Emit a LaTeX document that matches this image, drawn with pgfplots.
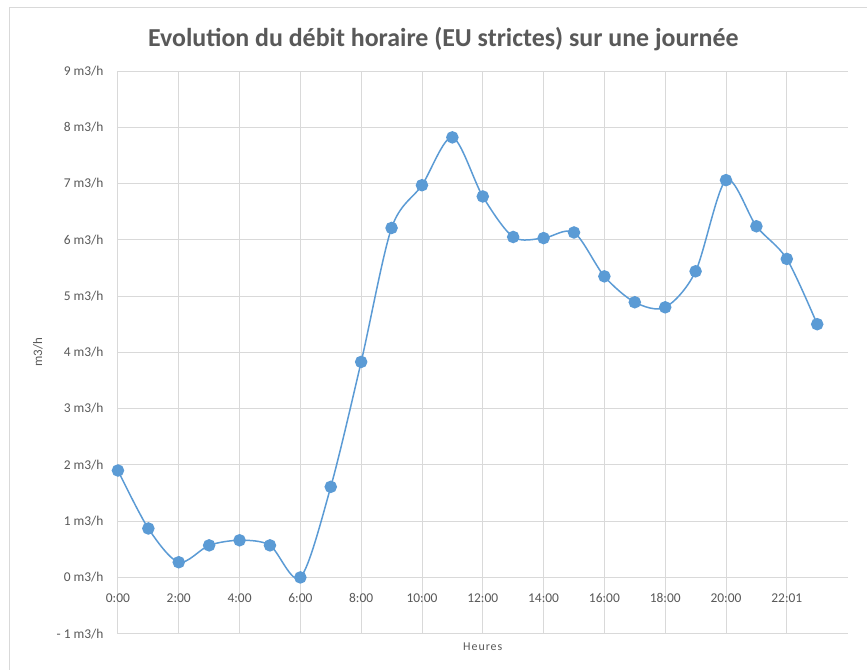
\documentclass[border=0pt]{standalone}
\usepackage{pgfplots}
\pgfplotsset{compat=1.18}
\usepackage{fontspec}
\setmainfont{Carlito}
\definecolor{txt}{HTML}{595959}
\definecolor{grd}{HTML}{D9D9D9}
\definecolor{ser}{HTML}{5B9BD5}
\begin{document}
\begin{tikzpicture}
\fill[white] (-118bp,-36bp) rectangle (749bp,634bp);
\draw[grd, line width=0.8bp] (-109bp,-36bp) -- (-109bp,627bp) -- (749bp,627bp);
\begin{axis}[at={(0,0)}, anchor=south west, scale only axis,
  width=730bp, height=563bp,
  xmin=0, xmax=24, ymin=-1, ymax=9,
  xtick={0,2,...,22},
  xticklabels={0:00,2:00,4:00,6:00,8:00,10:00,12:00,14:00,16:00,18:00,20:00,22:01},
  ytick={-1,0,...,9},
  yticklabels={- 1 m3/h,0 m3/h,1 m3/h,2 m3/h,3 m3/h,4 m3/h,5 m3/h,6 m3/h,7 m3/h,8 m3/h,9 m3/h},
  grid=major, grid style={grd, line width=0.9bp},
  axis line style={draw=none}, major tick length=0pt,
  tick label style={font=\fontsize{13.5}{15}\selectfont, text=txt},
  xticklabel style={text height=9bp, text depth=0bp, yshift=44bp},
  yticklabel style={xshift=-11bp},
  title={Evolution du débit horaire (EU strictes) sur une journée},
  title style={font=\fontsize{26}{28}\selectfont\bfseries, text=txt,
    at={(axis description cs:0.446,1.0465)}, anchor=center},
  xlabel={Heures},
  xlabel style={at={(axis description cs:0.5,-0.023)}, anchor=center,
    font=\fontsize{12}{14}\selectfont\addfontfeatures{LetterSpace=8}, text=txt},
  ylabel={m3/h},
  ylabel style={at={(axis description cs:-0.1096,0.5)}, anchor=center,
    font=\fontsize{13}{15}\selectfont, text=txt},
]
\addplot[ser, line width=1.5bp, smooth, mark=*, mark size=5.5bp,
  mark options={fill=ser, draw=ser}] coordinates {
  (0,1.90) (1,0.87) (2,0.27) (3,0.57) (4,0.66) (5,0.57) (6,0.00) (7,1.61)
  (8,3.83) (9,6.21) (10,6.97) (11,7.82) (12,6.77) (13,6.05) (14,6.03) (15,6.13)
  (16,5.35) (17,4.89) (18,4.80) (19,5.44) (20,7.06) (21,6.24) (22,5.66) (23,4.50)
};
\end{axis}
\end{tikzpicture}
\end{document}
